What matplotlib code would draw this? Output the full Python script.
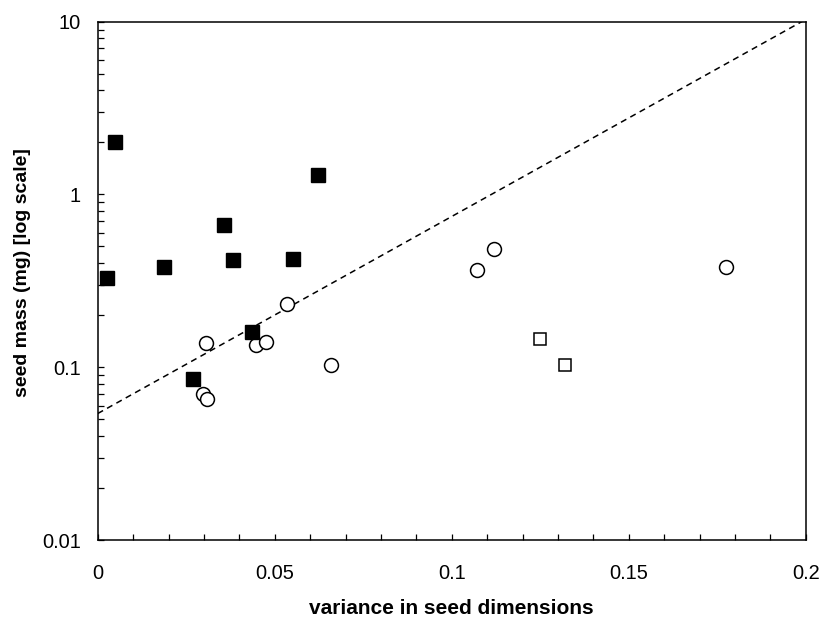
import numpy as np
from matplotlib import pyplot as plt
from matplotlib.ticker import FixedLocator, NullFormatter

plt.rcParams['font.family'] = ['Liberation Sans', 'DejaVu Sans']

# filled squares
sq_x = [0.0025, 0.0049, 0.0188, 0.0270, 0.0356, 0.0383, 0.0435, 0.0551, 0.0623]
sq_y = [0.329, 2.02, 0.381, 0.0853, 0.664, 0.417, 0.159, 0.426, 1.29]

# open circles
circ_x = [0.0298, 0.0306, 0.0308, 0.0447, 0.0475, 0.0534, 0.0659, 0.1071, 0.1120, 0.1776]
circ_y = [0.0699, 0.139, 0.0656, 0.134, 0.140, 0.232, 0.1028, 0.368, 0.484, 0.381]

# open squares
osq_x = [0.1249, 0.1319]
osq_y = [0.1455, 0.1028]

# fitted line (exponential)
fit_x = [0.0, 0.2]
fit_y = [0.054, 10.3]

fig = plt.figure(figsize=(8.35, 6.18), dpi=100)
ax = fig.add_axes([0.117, 0.126, 0.848, 0.839])

ax.plot(fit_x, fit_y, 'k', linestyle=(0, (4, 3)), linewidth=1.1)
ax.plot(circ_x, circ_y, 'o', markerfacecolor='white', markeredgecolor='black',
        markersize=10, markeredgewidth=1.1, linestyle='none')
ax.plot(osq_x, osq_y, 's', markerfacecolor='white', markeredgecolor='black',
        markersize=8, markeredgewidth=1.1, linestyle='none')
ax.plot(sq_x, sq_y, 's', color='black', markersize=9.5, linestyle='none')

ax.set_yscale('log')
ax.set_xlim(0, 0.2)
ax.set_ylim(0.01, 10)

ax.set_xticks([0, 0.05, 0.1, 0.15, 0.2])
ax.set_xticklabels(['0', '0.05', '0.1', '0.15', '0.2'])
ax.xaxis.set_minor_locator(FixedLocator(np.arange(0.01, 0.2, 0.01)))
ax.set_yticks([0.01, 0.1, 1, 10])
ax.set_yticklabels(['0.01', '0.1', '1', '10'])
ax.yaxis.set_minor_formatter(NullFormatter())

ax.tick_params(axis='both', which='both', direction='in', labelsize=14.4, width=0.9)
ax.tick_params(axis='x', which='both', length=4, pad=17)
ax.tick_params(axis='y', which='both', length=4, pad=12)
for s in ax.spines.values():
    s.set_linewidth(1.1)

ax.set_xlabel('variance in seed dimensions', fontsize=15, fontweight='bold', labelpad=12)
ax.set_ylabel('seed mass (mg) [log scale]', fontsize=14, fontweight='bold')
ax.yaxis.set_label_coords(-0.094, 0.517)

plt.savefig('out.png', dpi=100)
